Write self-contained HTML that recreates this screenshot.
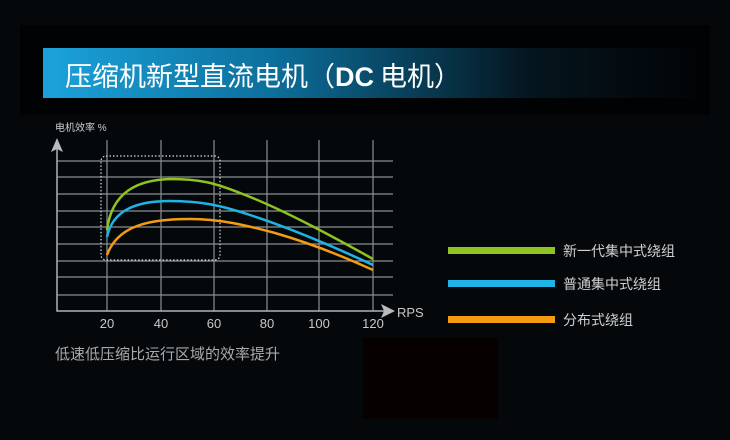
<!DOCTYPE html>
<html><head><meta charset="utf-8"><style>
body{margin:0;width:730px;height:440px;background:#04080b;overflow:hidden;font-family:"Liberation Sans","Noto Sans CJK SC",sans-serif;}
</style></head><body>
<svg width="730" height="440" xmlns="http://www.w3.org/2000/svg" style="position:absolute;left:0;top:0">
<defs><linearGradient id="g" x1="0" x2="1"><stop offset="0" stop-color="#1ca3dc"/><stop offset="0.35" stop-color="#0c6f9c"/><stop offset="0.75" stop-color="#05141d"/><stop offset="1" stop-color="#020406"/></linearGradient></defs>
<rect x="0" y="0" width="730" height="440" fill="#04080b"/>
<rect x="20" y="25" width="690" height="90" fill="#010203"/>
<rect x="43" y="48" width="654" height="50" fill="url(#g)"/>
<text x="65" y="86" fill="#fff" font-size="27" font-family="Noto Sans CJK SC,sans-serif">压缩机新型直流电机（<tspan font-weight="bold" font-family="Liberation Sans">DC</tspan> 电机）</text>
<text x="55" y="131" fill="#ccc" font-size="10">电机效率 %</text>
<g stroke="#8a8f92" stroke-width="1.2" fill="none">
<path d="M57 161H393M57 177H393M57 194H393M57 211H393M57 227H393M57 244H393M57 261H393M57 277H393M57 295H393"/>
<path d="M107 140V311M161 140V311M214 140V311M267 140V311M319 140V311M373 140V311"/>
<path d="M57 148V311H388" stroke="#b0b4b6" stroke-width="1.5"/>
</g>
<polygon points="57,138 51,152 57,149 63,152" fill="#b8bcbe"/>
<polygon points="395,311 381,304 384,311 381,318" fill="#b8bcbe"/>
<rect x="101" y="156" width="119" height="104" rx="5" fill="none" stroke="#ddd" stroke-width="1.2" stroke-dasharray="1.5,2"/>
<g fill="none" stroke-width="2.5">
<path d="M107 230C112 190 140 180 170 179C200 179 215 183 240 193C280 208 330 235 373 259" stroke="#8fc31f"/>
<path d="M107 237C113 208 140 201 170 201C200 201 220 205 250 215C290 228 330 245 373 265" stroke="#1fb4e6"/>
<path d="M107 255C118 225 150 219 190 219C220 219 245 225 275 233C310 243 340 255 373 270" stroke="#f39c12"/>
</g>
<g fill="#c8c8c8" font-size="13" text-anchor="middle">
<text x="107" y="328">20</text><text x="161" y="328">40</text><text x="214" y="328">60</text><text x="267" y="328">80</text><text x="319" y="328">100</text><text x="373" y="328">120</text>
</g>
<text x="397" y="317" fill="#c8c8c8" font-size="13">RPS</text>
<text x="55" y="359" fill="#aaa" font-size="15" font-family="Noto Sans CJK SC,sans-serif">低速低压缩比运行区域的效率提升</text>
<rect x="448" y="247" width="107" height="7" fill="#8fc31f"/>
<rect x="448" y="280" width="107" height="7" fill="#1fb4e6"/>
<rect x="448" y="316" width="107" height="7" fill="#f39c12"/>
<g fill="#d0d0d0" font-size="14" font-family="Noto Sans CJK SC,sans-serif">
<text x="563" y="256">新一代集中式绕组</text>
<text x="563" y="289">普通集中式绕组</text>
<text x="563" y="325">分布式绕组</text>
</g>
<rect x="363" y="338" width="135" height="81" fill="#060000"/>
</svg>
</body></html>
